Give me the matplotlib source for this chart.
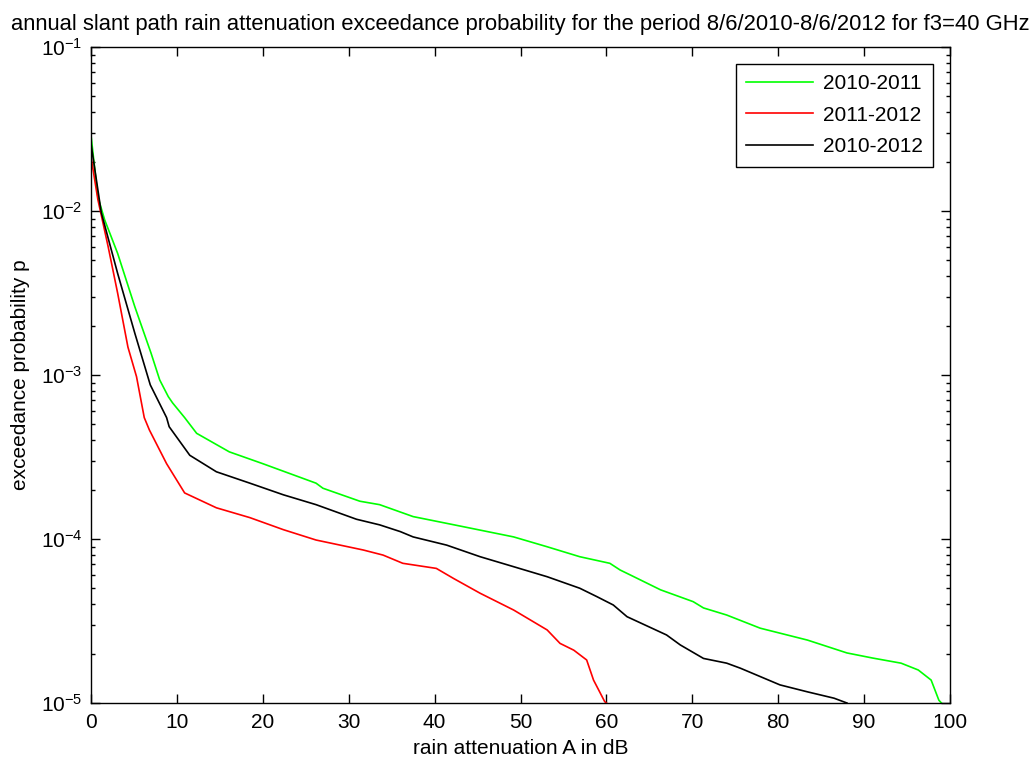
import matplotlib
matplotlib.use("Agg")
import matplotlib.pyplot as plt
import numpy as np

plt.rcParams['font.family'] = ['Liberation Sans', 'DejaVu Sans']

# attenuation A (dB) and exceedance probability p for each period
a_1011 = [0, 0.8, 1.6, 3.1, 5.1, 7.0, 8.0, 9.0, 9.5, 10.9, 12.3, 16.1, 20.0, 26.2, 27.0,
          31.3, 33.6, 37.5, 43.3, 49.2, 53.1, 56.9, 60.4, 61.6, 62.8, 66.3, 70.1, 71.3,
          74.0, 77.9, 83.4, 88.0, 91.0, 94.3, 96.3, 97.8, 98.7, 99.0]
p_1011 = [2.90e-2, 1.22e-2, 8.81e-3, 5.52e-3, 2.61e-3, 1.355e-3, 9.33e-4, 7.38e-4, 6.76e-4,
          5.50e-4, 4.41e-4, 3.40e-4, 2.88e-4, 2.19e-4, 2.04e-4, 1.70e-4, 1.62e-4, 1.37e-4,
          1.19e-4, 1.03e-4, 8.97e-5, 7.80e-5, 7.11e-5, 6.47e-5, 6.03e-5, 4.90e-5, 4.15e-5,
          3.80e-5, 3.44e-5, 2.86e-5, 2.42e-5, 2.02e-5, 1.88e-5, 1.75e-5, 1.59e-5, 1.38e-5,
          1.04e-5, 1.0e-5]

a_1112 = [0, 0.8, 2.0, 3.1, 4.3, 5.3, 6.2, 6.8, 8.8, 10.9, 14.6, 18.5, 22.4, 26.2, 31.7,
          34.0, 36.3, 40.2, 42.2, 45.3, 49.2, 53.1, 54.6, 56.2, 57.7, 58.5, 59.8, 60.0]
p_1112 = [2.14e-2, 1.175e-2, 6.05e-3, 3.16e-3, 1.48e-3, 9.77e-4, 5.50e-4, 4.62e-4, 2.88e-4,
          1.91e-4, 1.55e-4, 1.35e-4, 1.14e-4, 9.86e-5, 8.57e-5, 7.98e-5, 7.11e-5, 6.62e-5,
          5.75e-5, 4.67e-5, 3.69e-5, 2.79e-5, 2.31e-5, 2.10e-5, 1.83e-5, 1.38e-5, 1.02e-5,
          1.0e-5]

a_1012 = [0, 1.2, 3.1, 5.1, 6.9, 8.8, 9.1, 11.5, 14.6, 18.5, 22.4, 26.2, 30.9, 33.6, 36.0,
          37.5, 41.4, 45.3, 49.2, 53.1, 56.9, 58.9, 60.8, 62.4, 67.0, 68.6, 71.3, 74.0,
          75.6, 77.9, 80.2, 83.4, 86.5, 88.0]
p_1012 = [2.57e-2, 9.77e-3, 4.17e-3, 1.80e-3, 8.71e-4, 5.50e-4, 4.84e-4, 3.24e-4, 2.57e-4,
          2.19e-4, 1.86e-4, 1.62e-4, 1.32e-4, 1.22e-4, 1.11e-4, 1.03e-4, 9.18e-5, 7.80e-5,
          6.78e-5, 5.89e-5, 5.01e-5, 4.45e-5, 3.96e-5, 3.36e-5, 2.60e-5, 2.26e-5, 1.87e-5,
          1.75e-5, 1.63e-5, 1.45e-5, 1.29e-5, 1.17e-5, 1.07e-5, 1.0e-5]

fig = plt.figure(figsize=(10.34, 7.62), dpi=100)
ax = fig.add_axes([0.088, 0.0774, 0.8308, 0.8609])

ax.semilogy(a_1011, p_1011, color='#00ff00', lw=1.2, label='2010-2011')
ax.semilogy(a_1112, p_1112, color='#ff0000', lw=1.2, label='2011-2012')
ax.semilogy(a_1012, p_1012, color='black', lw=1.2, label='2010-2012')

ax.set_xlim(0, 100)
ax.set_ylim(1e-5, 1e-1)
ax.set_xticks(np.arange(0, 101, 10))

ax.tick_params(which='both', direction='in', top=True, right=True, labelsize=15)
ax.tick_params(which='major', length=6.5, width=1)
ax.tick_params(which='minor', length=3, width=1)
ax.tick_params(axis='x', pad=7)
ax.tick_params(axis='y', pad=6)
for s in ax.spines.values():
    s.set_linewidth(1)

ax.set_title('annual slant path rain attenuation exceedance probability for the period '
             '8/6/2010-8/6/2012 for f3=40 GHz', fontsize=15.8, pad=12)
ax.set_xlabel('rain attenuation A in dB', fontsize=15, labelpad=5)
ax.set_ylabel('exceedance probability p', fontsize=15, labelpad=8)

leg = ax.legend(loc='upper right', fontsize=15, fancybox=False, framealpha=1,
                edgecolor='black', borderaxespad=0.8, handlelength=3.2,
                labelspacing=0.6, borderpad=0.5, handletextpad=0.5)
leg.get_frame().set_linewidth(1)

fig.savefig('out.png', dpi=100)
